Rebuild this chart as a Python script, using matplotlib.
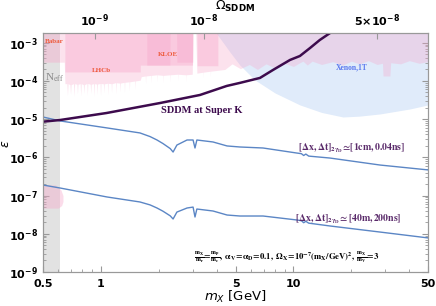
import numpy as np
import matplotlib.pyplot as plt
from matplotlib.ticker import FixedLocator, FixedFormatter, NullFormatter, LogLocator

# ---- data ----
# SDDM at Super K (dark purple)
sk_m = [0.5, 0.613, 1.07, 2.03, 3.27, 4.5, 5.27, 6.7, 7.83, 9.6, 10.8, 12.2, 13.7, 15.5, 16.5]
sk_eps = [8.6e-6, 9.5e-6, 1.45e-5, 2.65e-5, 4.3e-5, 7.4e-5, 8.9e-5, 1.2e-4, 1.94e-4,
          3.55e-4, 4.5e-4, 7.3e-4, 1.18e-3, 1.8e-3, 2.4e-3]

# [dx,dt] = [1cm, 0.04ns]
cm_m = [0.5, 0.613, 1.075, 1.595, 1.8, 1.955, 2.1, 2.29, 2.37, 2.48, 2.80, 3.01, 3.08, 3.15,
        3.82, 4.52, 5.27, 6.95, 10.4, 11.0, 11.3, 11.6, 12.0, 15.5, 28.2, 50.0]
cm_eps = [1.14e-5, 9.0e-6, 5.9e-6, 4.36e-6, 3.5e-6, 2.85e-6, 2.3e-6, 1.7e-6, 1.38e-6, 2.1e-6,
          2.85e-6, 2.85e-6, 1.76e-6, 2.85e-6, 2.53e-6, 1.99e-6, 1.87e-6, 1.76e-6, 1.30e-6,
          1.25e-6, 1.12e-6, 1.22e-6, 1.08e-6, 9.6e-7, 6.3e-7, 4.7e-7]

# [dx,dt] = [40m, 200ns]
m40_m = [0.5, 0.613, 1.075, 1.595, 1.8, 1.955, 2.1, 2.29, 2.37, 2.48, 2.80, 3.01, 3.08, 3.15,
         3.82, 4.52, 5.27, 6.95, 10.4, 11.0, 11.3, 11.6, 12.0, 15.5, 28.2, 50.0]
m40_eps = [1.89e-7, 1.58e-7, 9.2e-8, 6.8e-8, 5.7e-8, 4.73e-8, 3.9e-8, 2.95e-8, 2.44e-8,
           3.7e-8, 4.73e-8, 5.0e-8, 2.75e-8, 4.45e-8, 3.95e-8, 3.1e-8, 2.92e-8, 2.92e-8,
           2.3e-8, 2.2e-8, 1.95e-8, 2.12e-8, 1.9e-8, 1.6e-8, 1.11e-8, 7.8e-9]

# Xenon 1T excluded region (lower edge)
xe_m = [3.82, 4.0, 4.68, 5.27, 6.31, 8.02, 10.8, 14.0, 18.1, 22.0, 28.2, 40.3, 50.0]
xe_eps = [2.5e-3, 1.7e-3, 5.7e-4, 2.6e-4, 1.06e-4, 4.85e-5, 2.36e-5, 1.5e-5, 1.14e-5,
          1.2e-5, 1.37e-5, 1.85e-5, 2.36e-5]

# light pink (hairy) dark-photon bounds, lower edge
lp_m = [0.613, 0.645, 0.65, 0.665, 0.67, 0.675, 0.69, 0.695, 0.70, 0.72, 0.725, 0.73, 0.75,
        0.755, 0.76, 0.78, 0.785, 0.79, 0.81, 0.815, 0.82, 0.845, 0.85, 0.855, 0.88, 0.885,
        0.89, 0.915, 0.92, 0.925, 0.95, 0.955, 0.96, 0.99, 0.995, 1.0, 1.03, 1.035, 1.04,
        1.08, 1.085, 1.09, 1.13, 1.135, 1.14, 1.19, 1.195, 1.2, 1.25, 1.255, 1.26, 1.32,
        1.325, 1.33, 1.40, 1.405, 1.41, 1.50, 1.505, 1.51, 1.6, 1.62,
        1.70, 1.705, 1.71, 1.82, 1.825, 1.83, 1.95, 1.955, 1.96, 2.10, 2.105, 2.11, 2.28,
        2.285, 2.29, 2.50, 2.505, 2.51, 2.75, 2.755, 2.76, 2.98,
        3.01, 3.10, 3.15, 3.4, 3.405, 3.41, 3.7, 3.705, 3.71, 4.05, 4.4, 4.8, 5.3, 5.9, 6.5,
        7.2, 8.0, 9.0, 10.0, 10.8, 11.2, 11.8, 12.5, 14.0, 16.0, 18.0, 20.0, 22.0, 24.5,
        27.2, 29.0, 29.2, 31.7, 32.0, 36.0, 40.0, 45.0, 50.0]
lp_eps = [3.1e-4, 3.1e-4, 8.5e-5, 8.5e-5, 4.2e-5, 8.5e-5, 8.0e-5, 4.5e-5, 8.0e-5, 8.5e-5,
          4.0e-5, 8.5e-5, 8.2e-5, 4.6e-5, 8.2e-5, 8.5e-5, 4.1e-5, 8.5e-5, 8.0e-5, 4.8e-5,
          8.0e-5, 8.6e-5, 4.3e-5, 8.6e-5, 8.2e-5, 4.7e-5, 8.2e-5, 8.5e-5, 4.0e-5, 8.5e-5,
          8.3e-5, 4.5e-5, 8.3e-5, 8.6e-5, 4.2e-5, 8.6e-5, 8.4e-5, 4.9e-5, 8.4e-5, 8.7e-5,
          4.4e-5, 8.7e-5, 8.5e-5, 5.0e-5, 8.5e-5, 9.0e-5, 4.6e-5, 9.0e-5, 8.8e-5, 5.2e-5,
          8.8e-5, 9.2e-5, 5.0e-5, 9.2e-5, 9.5e-5, 5.5e-5, 9.5e-5, 1.0e-4, 6.0e-5, 1.0e-4,
          1.05e-4, 1.3e-4,
          1.35e-4, 8.5e-5, 1.35e-4, 1.4e-4, 9.0e-5, 1.4e-4, 1.45e-4, 9.5e-5, 1.45e-4, 1.4e-4,
          9.0e-5, 1.4e-4, 1.45e-4, 9.5e-5, 1.45e-4, 1.5e-4, 1.0e-4, 1.5e-4, 1.45e-4, 9.5e-5,
          1.45e-4, 1.5e-4,
          3e-3, 3e-3, 1.6e-4, 1.7e-4, 1.2e-4, 1.7e-4, 1.8e-4, 1.3e-4, 1.8e-4, 1.9e-4, 2.0e-4,
          2.8e-4, 2.1e-4, 2.7e-4, 2.0e-4, 2.8e-4, 2.2e-4, 2.9e-4, 2.4e-4, 3.0e-4, 3.3e-4,
          2.6e-4, 3.3e-4, 2.7e-4, 3.2e-4, 2.6e-4, 3.3e-4, 2.8e-4, 3.4e-4, 2.7e-4, 2.9e-4,
          1.35e-4, 1.35e-4, 3.0e-4, 2.8e-4, 3.4e-4, 2.9e-4, 3.2e-4]

# medium pink layer (Babar / LHCb)
mp_m = [0.5, 0.612, 0.613, 0.649, 0.65, 1.6, 1.601, 2.99, 3.0, 3.15, 3.16, 4.05]
mp_eps = [3.1e-4, 3.1e-4, 3e-3, 3e-3, 1.72e-4, 1.72e-4, 2.6e-4, 2.6e-4, 3e-3, 3e-3,
          2.5e-4, 2.5e-4]

# darker pink layer (KLOE)
dp_m = [1.73, 2.28, 2.29, 2.47, 2.48, 3.0]
dp_eps = [2.6e-4, 2.6e-4, 3e-3, 3e-3, 3.1e-4, 3.1e-4]

# small pink blob at low mass
bl_eps = [4.7e-8, 5.5e-8, 7e-8, 1e-7, 1.4e-7, 1.9e-7]
bl_m = [0.6, 0.625, 0.635, 0.635, 0.62, 0.58]

neff_m = [0.5, 0.613]

y_ticks = [1e-9, 1e-8, 1e-7, 1e-6, 1e-5, 1e-4, 1e-3]
y_labels = [r'$\mathbf{10^{-%d}}$' % k for k in [9, 8, 7, 6, 5, 4, 3]]
x_ticks = [0.5, 1, 5, 10, 50]
x_labels = ['0.5', '1', '5', '10', '50']
om_pos = [0.931, 3.43, 27.2]
om_labels = [r'$\mathbf{10^{-9}}$', r'$\mathbf{10^{-8}}$', r'$\mathbf{5{\times}10^{-8}}$']

# ---- figure ----
fig = plt.figure(figsize=(4.36, 3.06), dpi=100)
ax = fig.add_axes([43 / 436, 34 / 306, 385 / 436, 239 / 306])
ax.set_xscale('log')
ax.set_yscale('log')
ax.set_xlim(0.5, 50)
ax.set_ylim(1e-9, 1.8e-3)

pink = '#f7a8cb'
ax.axvspan(neff_m[0], neff_m[1], color='#e2e2e2', lw=0, zorder=1)
ax.fill_between(xe_m, xe_eps, 3e-3, color='#e0ebfa', lw=0, zorder=1)
ax.fill_between(lp_m, lp_eps, 3e-3, color=pink, alpha=0.33, lw=0, zorder=2)
ax.fill_between(mp_m, mp_eps, 3e-3, color=pink, alpha=0.4, lw=0, zorder=2)
ax.fill_between(dp_m, dp_eps, 3e-3, color=pink, alpha=0.4, lw=0, zorder=2)
ax.fill_betweenx(bl_eps, 0.5, bl_m, color=pink, alpha=0.4, lw=0, zorder=2)

ax.plot(cm_m, cm_eps, color='#5b86c5', lw=1.0, zorder=3)
ax.plot(m40_m, m40_eps, color='#5b86c5', lw=1.0, zorder=3)
ax.plot(sk_m, sk_eps, color='#3d0b4d', lw=1.8, zorder=4)

serif = dict(family='Liberation Serif', math_fontfamily='stix', fontweight='bold')
ax.text(0.51, 1.05e-3, 'Babar', color='#ee5a3c', fontsize=5, va='center', **serif)
ax.text(0.512, 1.2e-4, r'N$_{\rm eff}$', color='#8a8a8a', fontsize=8, va='center',
        family='Liberation Serif', math_fontfamily='stix')
ax.text(1.0, 1.83e-4, 'LHCb', color='#ee5a3c', fontsize=5, ha='center', va='center', **serif)
ax.text(2.23, 4.8e-4, 'KLOE', color='#ee5a3c', fontsize=5, ha='center', va='center', **serif)
ax.text(20.1, 2.32e-4, 'Xenon,1T', color='#5a78ee', fontsize=5.5, ha='center', va='center', **serif)
ax.text(3.35, 1.64e-5, 'SDDM at Super K', color='#3d0b4d', fontsize=7.5, ha='center',
        va='center', **serif)
ax.text(20.1, 1.76e-6, r'$\mathbf{[\Delta x,\Delta t]_{2\gamma_D}\!\simeq\![1cm,0.04ns]}$',
        color='#5a2a6a', fontsize=7, ha='center', va='center', math_fontfamily='stix')
ax.text(19.2, 2.44e-8, r'$\mathbf{[\Delta x,\Delta t]_{2\gamma_D}\!\simeq [40m,200ns]}$',
        color='#5a2a6a', fontsize=7, ha='center', va='center', math_fontfamily='stix')
ax.text(9.26, 2.47e-9,
        r'$\mathbf{\frac{m_X}{m_r}\!=\!\frac{m_p}{m_e},\ \alpha_V\!=\!\alpha_D\!=\!0.1,\ '
        r'\Omega_X\!=\!10^{-7}(m_X/GeV)^2,\ \frac{m_X}{m_V}\!=\!3}$',
        color='black', fontsize=6.2, ha='center', va='center', math_fontfamily='stix')

# axes styling
for sp in ax.spines.values():
    sp.set_color('#999999')
ax.xaxis.set_major_locator(FixedLocator(x_ticks))
ax.xaxis.set_major_formatter(FixedFormatter(x_labels))
ax.xaxis.set_minor_locator(LogLocator(base=10, subs=np.arange(2, 10)))
ax.xaxis.set_minor_formatter(NullFormatter())
ax.yaxis.set_major_locator(FixedLocator(y_ticks))
ax.yaxis.set_major_formatter(FixedFormatter(y_labels))
ax.yaxis.set_minor_locator(LogLocator(base=10, subs=np.arange(2, 10), numticks=20))
ax.yaxis.set_minor_formatter(NullFormatter())
ax.tick_params(which='both', direction='in', color='#999999', top=False, right=True,
               labelsize=8)
ax.tick_params(which='major', length=4)
ax.tick_params(which='minor', length=2)
ax.tick_params(axis='x', pad=5)
for lb in ax.get_xticklabels():
    lb.set_fontweight('bold')

ax2 = ax.twiny()
ax2.set_xscale('log')
ax2.set_xlim(0.5, 50)
ax2.xaxis.set_major_locator(FixedLocator(om_pos))
ax2.xaxis.set_major_formatter(FixedFormatter(om_labels))
ax2.xaxis.set_minor_locator(FixedLocator([]))
ax2.tick_params(direction='in', length=4, color='#999999', labelsize=8, pad=3)
for sp in ax2.spines.values():
    sp.set_color('#999999')
ax2.set_xlabel(r'$\Omega_{\mathbf{SDDM}}$', fontsize=9, labelpad=2)

ax.set_xlabel(r'$m_X$ [GeV]', fontsize=9.5, labelpad=0)
ax.set_ylabel(r'$\epsilon$', fontsize=9)
ax.yaxis.set_label_coords(-0.08, 0.535)

fig.savefig('out.png', dpi=100)
